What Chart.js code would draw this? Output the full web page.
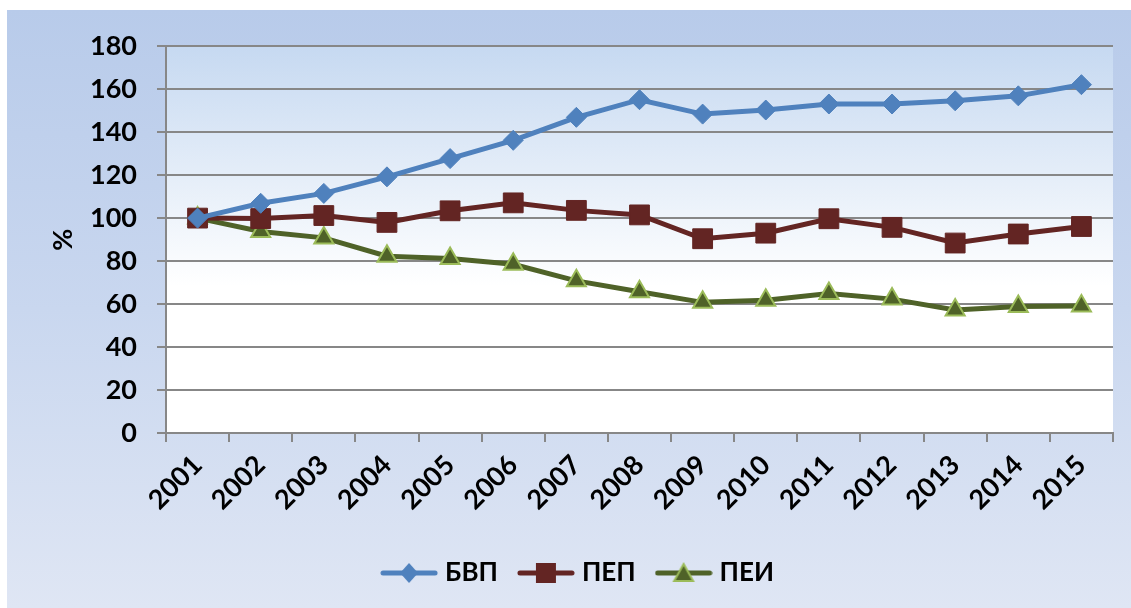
<!DOCTYPE html>
<html>
<head>
<meta charset="utf-8">
<script src="https://cdn.jsdelivr.net/npm/chart.js@4/dist/chart.umd.min.js"></script>
<style>
  html, body { margin:0; padding:0; background:#fff; }
  #wrap {
    position:absolute; left:7px; top:10px; width:1124px; height:598px;
    background: linear-gradient(to bottom, #b8cbea 0%, #c9d7ef 50%, #dfe6f4 100%);
  }
</style>
</head>
<body>
<div id="wrap"><canvas id="grafico"></canvas></div>
<script>
// Dados
const anos = ['2001','2002','2003','2004','2005','2006','2007','2008','2009','2010','2011','2012','2013','2014','2015'];
const bvp = [100, 106.9, 111.5, 119.2, 127.7, 136.2, 146.9, 155.1, 148.4, 150.3, 153.1, 153.1, 154.6, 156.9, 162.1];
const pep = [100, 99.8, 101.2, 98.0, 103.4, 107.1, 103.6, 101.5, 90.4, 93.0, 99.7, 95.7, 88.4, 92.6, 96.1];
const pei = [100, 93.8, 90.8, 82.3, 81.2, 78.5, 70.8, 65.7, 60.8, 61.8, 64.9, 62.3, 57.2, 58.9, 59.1];
const nomes = ['БВП', 'ПЕП', 'ПЕИ'];
const yTicks = { min: 0, max: 180, step: 20 };

const fonte = 'Lato, "Open Sans", "DejaVu Sans", sans-serif';
const cinza = '#878787';

// icone da legenda (linha + marcador)
function iconeLegenda(cor, tipo, borda){
    const c = document.createElement('canvas');
    c.width = 58; c.height = 24;
    const g = c.getContext('2d');
    g.strokeStyle = cor; g.lineWidth = 5; g.lineCap = 'round';
    g.beginPath(); g.moveTo(3,12); g.lineTo(55,12); g.stroke();
    g.fillStyle = cor;
    g.beginPath();
    if(tipo === 'diamond'){ g.moveTo(29,2); g.lineTo(38,12); g.lineTo(29,22); g.lineTo(20,12); g.closePath(); g.fill(); }
    else if(tipo === 'square'){ g.rect(19,2,20,20); g.fill(); }
    else { g.moveTo(29,3); g.lineTo(38.5,20); g.lineTo(19.5,20); g.closePath(); g.fill(); g.strokeStyle = borda; g.lineWidth = 2; g.stroke(); }
    return c;
}

// fundo do plot
const fundoPlot = {
    id: 'fundoPlot',
    beforeDraw(chart){
        const { ctx, chartArea: a } = chart;
        const grad = ctx.createLinearGradient(0, a.top, 0, a.bottom);
        grad.addColorStop(0, '#c6d9f1');
        grad.addColorStop(0.62, '#ffffff');
        grad.addColorStop(1, '#ffffff');
        ctx.save(); ctx.fillStyle = grad;
        ctx.fillRect(a.left, a.top, a.right - a.left, a.bottom - a.top);
        ctx.restore();
    }
};

const icones = [
    iconeLegenda('#4f81bd', 'diamond'),
    iconeLegenda('#632523', 'square'),
    iconeLegenda('#4f6228', 'triangle', '#9bbb59')
];

new Chart(document.getElementById('grafico'), {
    type: 'line',
    data: {
        labels: anos,
        datasets: [
            { label: nomes[0], data: bvp, borderColor:'#4f81bd', backgroundColor:'#4f81bd', borderWidth:5,
              pointStyle:'rectRot', pointRadius:10, pointBorderWidth:1, pointBorderColor:'#4f81bd' },
            { label: nomes[1], data: pep, borderColor:'#632523', backgroundColor:'#632523', borderWidth:5,
              pointStyle:'rect', pointRadius:14, pointBorderWidth:1, pointBorderColor:'#632523' },
            { label: nomes[2], data: pei, borderColor:'#4f6228', backgroundColor:'#4f6228', borderWidth:5,
              pointStyle:'triangle', pointRadius:11, pointBorderWidth:2, pointBorderColor:'#9bbb59' }
        ]
    },
    options: {
        responsive: true, maintainAspectRatio: false, animation: false,
        layout: { padding: { left: 40, right: 18, top: 33, bottom: 12 } },
        plugins: {
            tooltip: { enabled: false },
            legend: {
                position: 'bottom',
                labels: {
                    usePointStyle: true, pointStyleWidth: 46, padding: 25, color: '#000',
                    font: { family: fonte, size: 26, weight: 'bold' },
                    generateLabels: chart => chart.data.datasets.map((d, i) => ({
                        text: d.label, pointStyle: icones[i], datasetIndex: i,
                        fillStyle: d.borderColor, strokeStyle: d.borderColor, lineWidth: 0, fontColor: '#000'
                    }))
                }
            }
        },
        scales: {
            x: {
                offset: true,
                grid: { offset: true, drawOnChartArea: false, drawTicks: true, tickLength: 9, color: cinza, lineWidth: 2 },
                border: { color: cinza, width: 2 },
                ticks: { color:'#000', autoSkip:false, minRotation:45, maxRotation:45, padding: 7,
                         font: { family: fonte, size: 27, weight: 'bold' } },
                afterFit(s){ s.height = 102; }
            },
            y: {
                min: yTicks.min, max: yTicks.max,
                grid: { color: cinza, lineWidth: 2, tickLength: 9 },
                border: { color: cinza, width: 2 },
                ticks: { stepSize: yTicks.step, color:'#000', padding: 20,
                         font: { family: fonte, size: 27, weight: 'bold' } },
                title: { display: true, text: '%', color:'#000', padding: 0,
                         font: { family: fonte, size: 27, weight: 'bold' } },
                afterFit(s){ s.width = 119; }
            }
        }
    },
    plugins: [fundoPlot]
});
</script>
</body>
</html>
